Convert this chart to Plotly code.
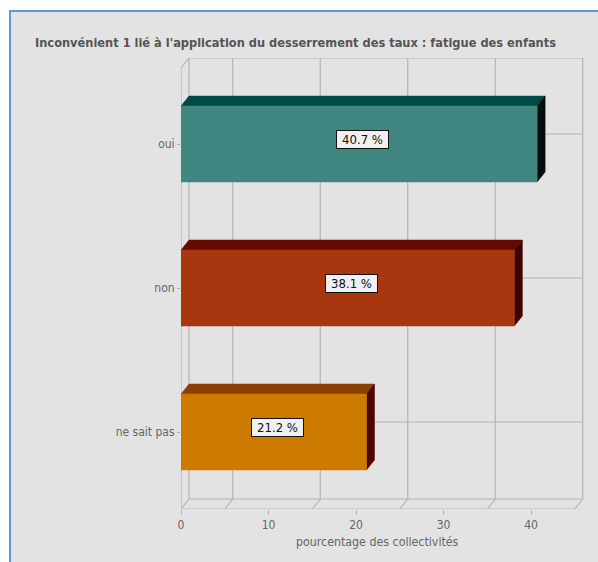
import plotly.graph_objects as go

title = "Inconvénient 1 lié à l'application du desserrement des taux : fatigue des enfants"
categories = ["oui", "non", "ne sait pas"]
values = [40.7, 38.1, 21.2]
x_ticks = [0, 10, 20, 30, 40]
x_grid = [5, 15, 25, 35, 45]
x_title = "pourcentage des collectivités"
front_colors = ["#3f8780", "#a8360f", "#cc7a00"]
top_colors = ["#004a45", "#650a00", "#8a4100"]
side_colors = ["#000f0d", "#3d0500", "#4d0500"]

BG = "#e3e3e3"
GRID = "#b4b4b4"
TXT = "#666666"
FONT = "DejaVu Sans Condensed, Noto Sans, sans-serif"

W, H = 598, 562
L, R, T, B = 181, 584, 58, 509
PX_X = 8.75
PX_Y = 144.0
DX = 8 / PX_X
DY = 10 / PX_Y
BAR_H = 76 / PX_Y
X_MAX = (R - L) / PX_X
Y_TOP = -(144 - T) / PX_Y
Y_BOT = 2 + (B - 432) / PX_Y
X_END = 45

fig = go.Figure()


def line(xs, ys, width=1.2, color=GRID):
    fig.add_trace(go.Scatter(x=xs, y=ys, mode="lines", line=dict(color=color, width=width),
                             hoverinfo="skip", showlegend=False, cliponaxis=False))


def poly(xs, ys, color):
    fig.add_trace(go.Scatter(x=xs, y=ys, mode="lines", fill="toself", fillcolor=color,
                             line=dict(color=color, width=0.5), hoverinfo="skip",
                             showlegend=False, cliponaxis=False))


back_top, back_bot = Y_TOP, Y_BOT - DY
front_top = Y_TOP + DY
# back wall frame and grid
line([DX, X_END + DX, X_END + DX, DX, DX], [back_top, back_top, back_bot, back_bot, back_top])
for g in x_grid[:-1]:
    line([g + DX, g + DX, g], [back_top, back_bot, Y_BOT])
for i in range(len(categories)):
    line([DX, X_END + DX], [i - DY, i - DY])
# left wall and floor
line([DX, 0, 0], [back_top, front_top, Y_BOT])
line([DX, 0], [back_bot, Y_BOT])
line([0, X_END, X_END + DX], [Y_BOT, Y_BOT, back_bot])

for i, v in enumerate(values):
    y0, y1 = i - BAR_H / 2, i + BAR_H / 2
    poly([0, v, v + DX, DX, 0], [y0, y0, y0 - DY, y0 - DY, y0], top_colors[i])
    poly([v, v + DX, v + DX, v, v], [y0, y0 - DY, y1 - DY, y1, y0], side_colors[i])
    poly([0, v, v, 0, 0], [y0, y0, y1, y1, y0], front_colors[i])

annotations = [
    dict(x=v / 2, y=i, text=f"{v} %", showarrow=False, xshift=3.5, yshift=4.5,
         font=dict(family=FONT, size=13, color="#111111"),
         bgcolor="#f0f0f0", bordercolor="#111111", borderwidth=1, borderpad=2,
         width=47, height=13)
    for i, v in enumerate(values)
]
annotations.append(dict(x=22.4, y=Y_BOT, yshift=-33, text=x_title, showarrow=False,
                        font=dict(family=FONT, size=12.3, color=TXT)))

fig.update_layout(
    width=W, height=H, autosize=False,
    margin=dict(l=L, r=W - R, t=T, b=H - B, pad=0),
    paper_bgcolor=BG, plot_bgcolor=BG,
    title=dict(text=f"<b>{title}</b>", x=35 / W, xref="container", xanchor="left",
               y=1 - 43 / H, yref="container", yanchor="middle",
               font=dict(family=FONT, size=12.7, color="#555555")),
    xaxis=dict(range=[0, X_MAX], tickvals=x_ticks, ticks="outside", ticklen=5, tickcolor=GRID,
               tickfont=dict(family=FONT, size=12, color=TXT), showgrid=False,
               zeroline=False, showline=False),
    yaxis=dict(range=[Y_BOT, Y_TOP], tickvals=list(range(len(categories))), ticktext=categories,
               ticks="outside", ticklen=3, tickcolor=GRID,
               tickfont=dict(family=FONT, size=12, color=TXT), showgrid=False,
               zeroline=False, showline=False),
    annotations=annotations,
    shapes=[
        dict(type="rect", xref="paper", yref="paper", x0=-L / (R - L), x1=(W - L) / (R - L),
             y0=1 + T / (B - T) - 0, y1=1 + (T - 10) / (B - T), fillcolor="#ffffff",
             line=dict(width=0), layer="below"),
        dict(type="rect", xref="paper", yref="paper", x0=-L / (R - L), x1=(9 - L) / (R - L),
             y0=-(H - B) / (B - T), y1=1 + T / (B - T), fillcolor="#ffffff",
             line=dict(width=0), layer="below"),
        dict(type="rect", xref="paper", yref="paper", x0=(9 - L) / (R - L), x1=(W - L) / (R - L),
             y0=1 + (T - 10) / (B - T), y1=1 + (T - 12) / (B - T), fillcolor="#6396d4",
             line=dict(width=0), layer="below"),
        dict(type="rect", xref="paper", yref="paper", x0=(9 - L) / (R - L), x1=(11 - L) / (R - L),
             y0=-(H - B) / (B - T), y1=1 + (T - 10) / (B - T), fillcolor="#6396d4",
             line=dict(width=0), layer="below"),
    ],
)

fig.write_html("out.html", config=dict(displayModeBar=False),
               post_script="document.body.style.margin='0';document.documentElement.style.overflow='hidden';")
